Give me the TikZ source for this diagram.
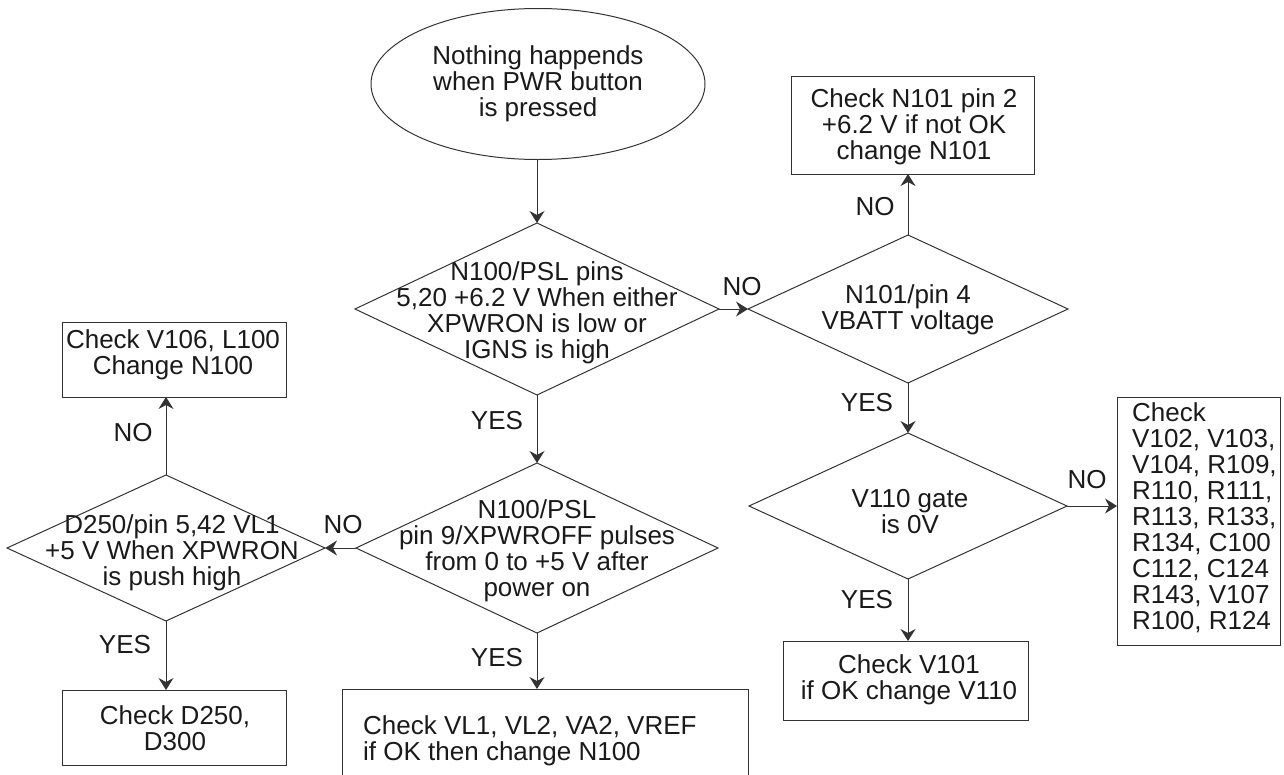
\documentclass[tikz,border=0pt]{standalone}
\usepackage{fontspec}
\setmainfont{Liberation Sans}
\usetikzlibrary{shapes.geometric,arrows.meta}
\definecolor{ln}{HTML}{333333}
\definecolor{tx}{HTML}{1A1A1A}
\begin{document}
\begin{tikzpicture}[x=1pt,y=-1pt,
  every node/.style={text=tx, font=\fontsize{26}{26}\selectfont},
  box/.style={draw=ln, line width=1pt, rectangle, inner sep=0pt, outer sep=0pt},
  dia/.style={draw=ln, line width=1pt, diamond, inner sep=0pt, outer sep=0pt},
  oval/.style={draw=ln, line width=1pt, ellipse, inner sep=0pt, outer sep=0pt, align=center},
  txt/.style={inner sep=0pt, align=center},
  lbl/.style={inner sep=0pt},
  arr/.style={draw=ln, line width=1pt, -{Stealth[length=12pt,width=15pt,inset=4pt]}},
]
\clip (0,0) rectangle (1284,774);
\fill[white] (0,0) rectangle (1284,774);

\node[oval, minimum width=334pt, minimum height=151pt] (start) at (538,84) {Nothing happends\\when PWR button\\is pressed};

\node[dia, minimum width=364pt, minimum height=172pt] (d1) at (537,309) {};
\node[txt] (d1t) at (537,313) {N100/PSL pins\\5,20 +6.2 V When either\\XPWRON is low or\\IGNS is high};

\node[dia, minimum width=320pt, minimum height=148pt] (d2) at (908,309) {};
\node[txt] (d2t) at (908,310) {N101/pin 4\\VBATT voltage};

\node[box, minimum width=243pt, minimum height=98pt] (b1) at (912.5,125) {};
\node[txt] (b1t) at (914,127) {Check N101 pin 2\\+6.2 V if not OK\\change N101};

\node[dia, minimum width=318pt, minimum height=146pt] (d3) at (908,506) {};
\node[txt] (d3t) at (910,512) {V110 gate\\is 0V};

\node[box, minimum width=163pt, minimum height=248pt] (b2) at (1198.5,521) {};
\node[txt, align=left, anchor=west] (b2t) at (1132,517.5) {Check\\V102, V103,\\V104, R109,\\R110, R111,\\R113, R133,\\R134, C100\\C112, C124\\R143, V107\\R100, R124};

\node[box, minimum width=245pt, minimum height=79pt] (b3) at (905.5,680.5) {};
\node[txt] (b3t) at (909,680) {Check V101\\if OK change V110};

\node[dia, minimum width=362pt, minimum height=170pt] (d4) at (537,548) {};
\node[txt] (d4t) at (537,551) {N100/PSL\\pin 9/XPWROFF pulses\\from 0 to +5 V after\\power on};

\node[box, minimum width=406pt, minimum height=130pt, anchor=north] (b4) at (545,689) {};
\node[txt, align=left, anchor=west] (b4t) at (363,741) {Check VL1, VL2, VA2, VREF\\if OK then change N100};

\node[dia, minimum width=318pt, minimum height=146pt] (d5) at (166,548) {};
\node[txt] (d5t) at (172,553) {D250/pin 5,42 VL1\\+5 V When XPWRON\\is push high};

\node[box, minimum width=224pt, minimum height=75pt] (b5) at (174,359.5) {};
\node[txt] (b5t) at (173,355) {Check V106, L100\\Change N100};

\node[box, minimum width=224pt, minimum height=75pt] (b6) at (174,727.5) {};
\node[txt] (b6t) at (175,728.5) {Check D250,\\D300};

\draw[arr] (d1.north |- start.south) -- (d1.north);
\draw[arr] (d1.east) -- (d2.west);
\draw[arr] (d2.north) -- (d2.north |- b1.south);
\draw[arr] (d2.south) -- (d3.north);
\draw[arr] (d3.east) -- (d3.east -| b2.west);
\draw[arr] (d3.south) -- (d3.south |- b3.north);
\draw[arr] (d1.south) -- (d4.north);
\draw[arr] (d4.south) -- (d4.south |- b4.north);
\draw[arr] (d4.west) -- (d5.east);
\draw[arr] (d5.north) -- (d5.north |- b5.south);
\draw[arr] (d5.south) -- (d5.south |- b6.north);

\node[lbl] (l1) at (742,287) {NO};
\node[lbl] (l2) at (875,207) {NO};
\node[lbl] (l3) at (867,403) {YES};
\node[lbl] (l4) at (1087,480) {NO};
\node[lbl] (l5) at (867,600) {YES};
\node[lbl] (l6) at (497,421) {YES};
\node[lbl] (l7) at (497,658) {YES};
\node[lbl] (l8) at (343,525) {NO};
\node[lbl] (l9) at (133,433) {NO};
\node[lbl] (l10) at (125,645) {YES};
\end{tikzpicture}
\end{document}
